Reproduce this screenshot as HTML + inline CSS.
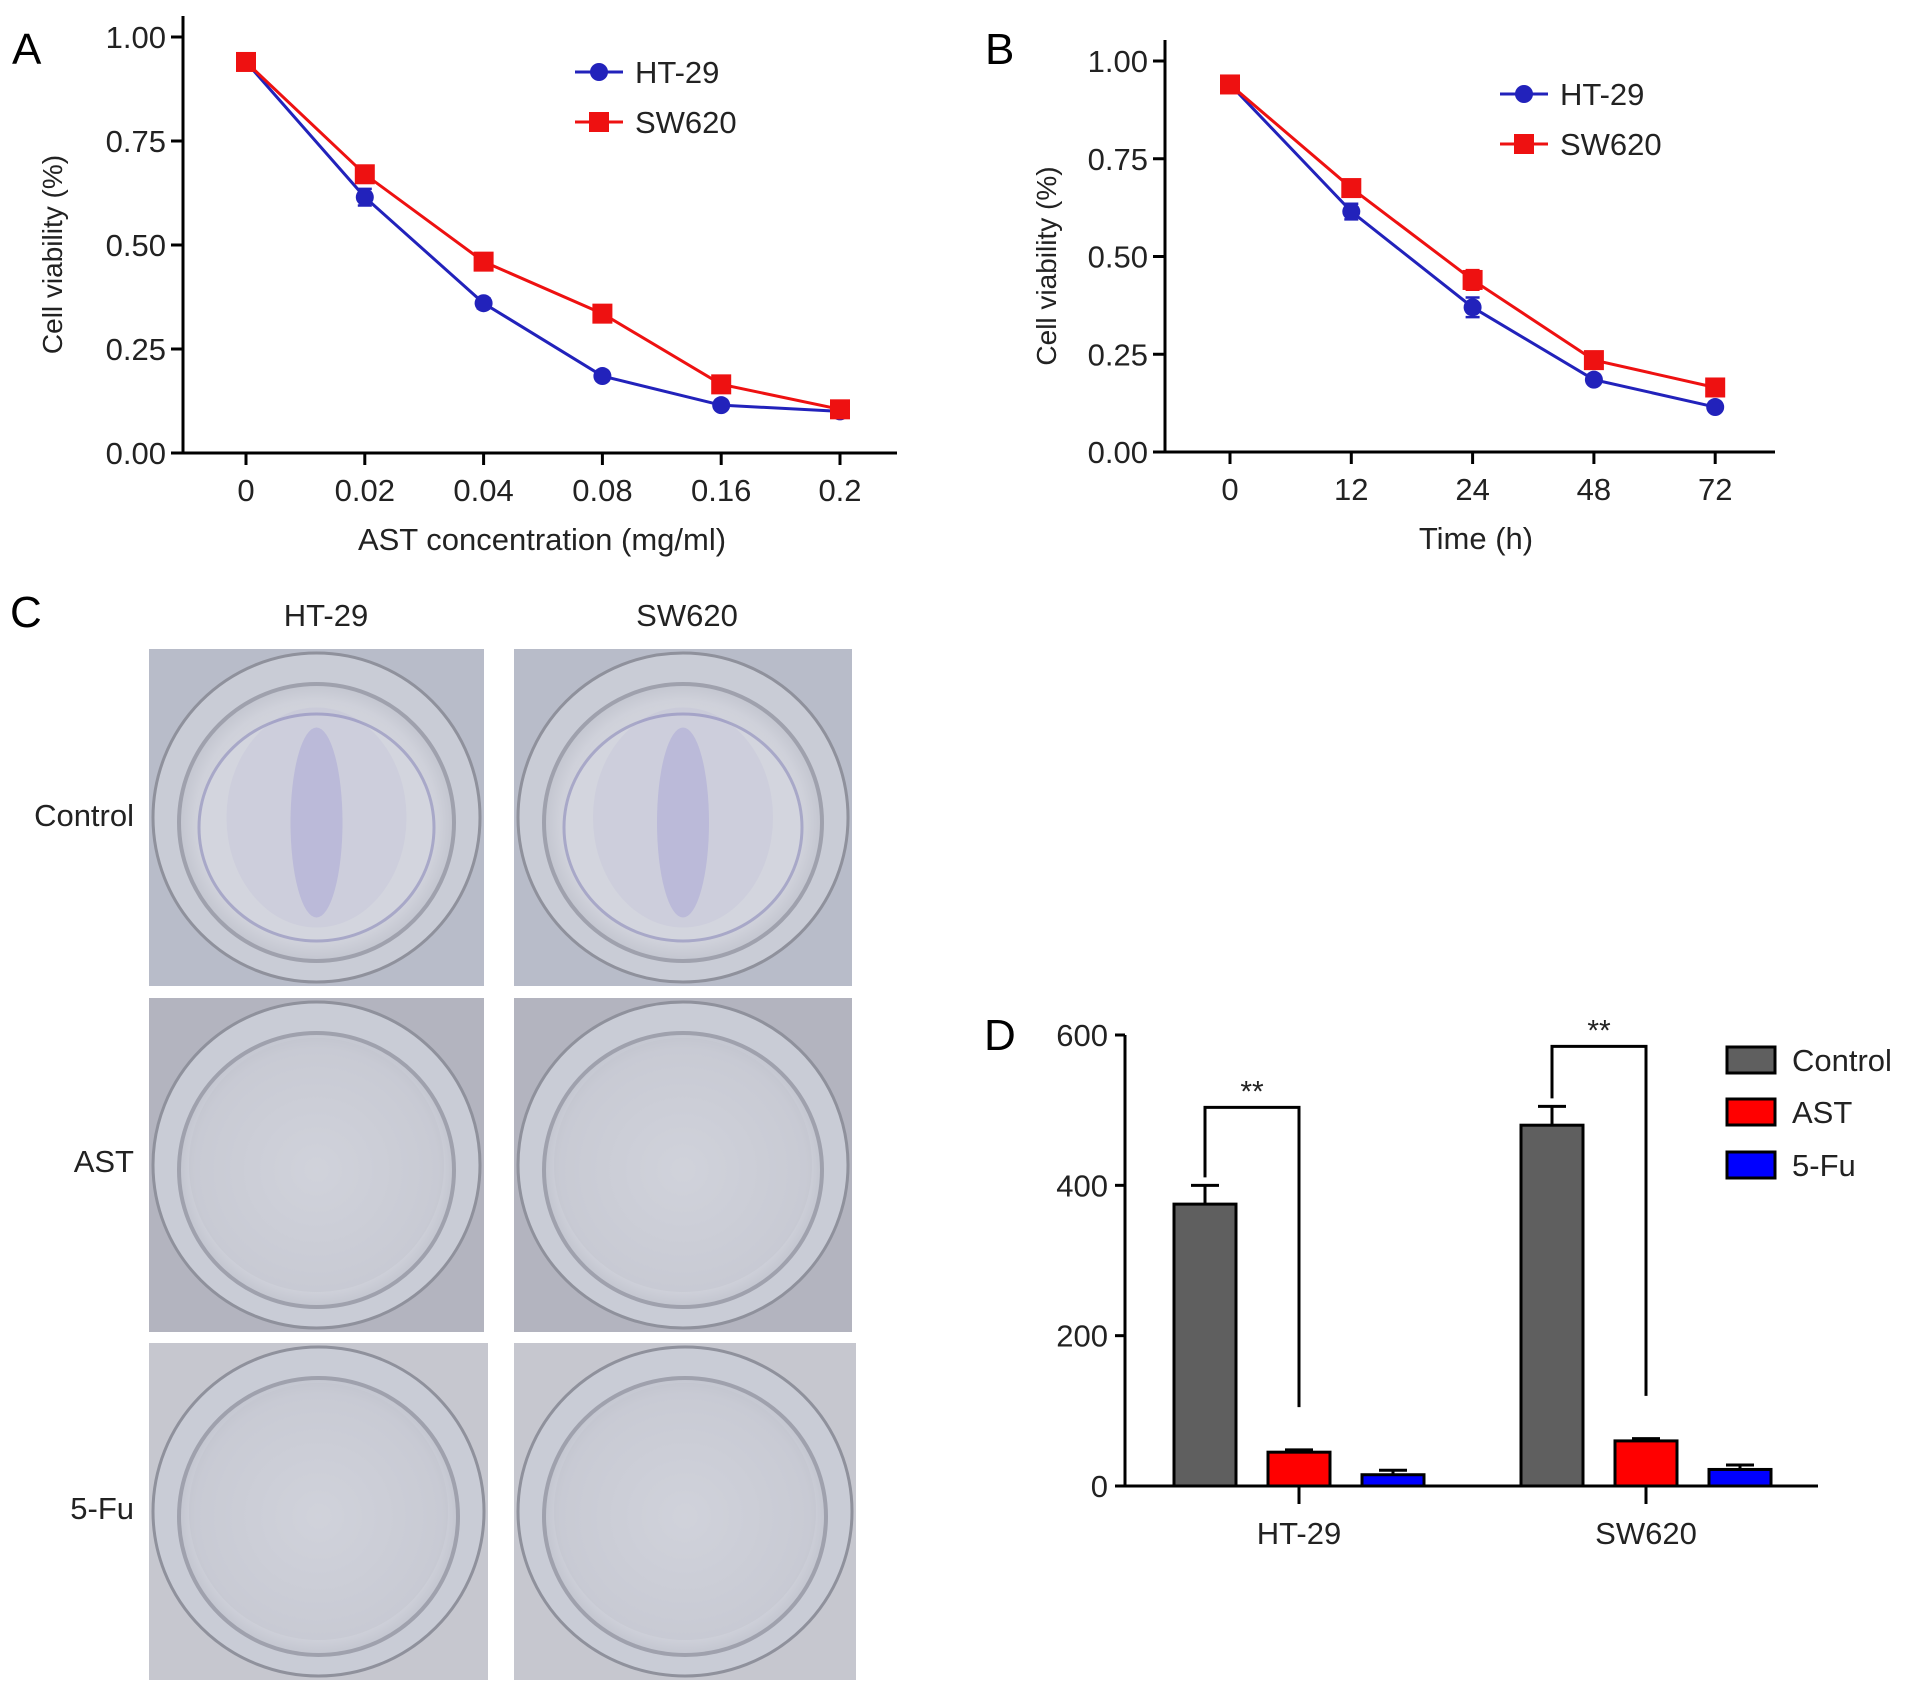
<!DOCTYPE html>
<html><head><meta charset="utf-8"><style>
html,body{margin:0;padding:0;background:#fff}
svg{display:block;font-family:"Liberation Sans",Arial,sans-serif}
</style></head><body>
<svg id="fig" width="1913" height="1696" viewBox="0 0 1913 1696" xmlns="http://www.w3.org/2000/svg">
<defs>
<radialGradient id="dishG" cx="50%" cy="50%" r="55%"><stop offset="0" stop-color="#dfe1e8"/><stop offset="0.8" stop-color="#cfd1da"/><stop offset="1" stop-color="#b9bcc7"/></radialGradient>
</defs>
<g id="panelA"></g>
<g id="panelB"></g>
<g id="panelC"></g>
<g id="panelD"></g>
</svg>
<script>
// Panel A data
const aCategories = ["0","0.02","0.04","0.08","0.16","0.2"];
const aHT29 = [0.94,0.615,0.36,0.185,0.115,0.10];
const aSW620 = [0.94,0.67,0.46,0.335,0.165,0.105];
const aHTerr = [0.01,0.02,0.012,0.01,0.01,0.008];
const aSWerr = [0.01,0.012,0.01,0.01,0.012,0.01];
// Panel B data
const bCategories = ["0","12","24","48","72"];
const bHT29 = [0.94,0.615,0.37,0.185,0.115];
const bSW620 = [0.94,0.675,0.44,0.235,0.165];
const bHTerr = [0.01,0.02,0.025,0.01,0.008];
const bSWerr = [0.01,0.012,0.025,0.01,0.01];
const yTicksAB = [0,0.25,0.5,0.75,1.0];
const yTickLabelsAB = ["0.00","0.25","0.50","0.75","1.00"];
// Panel D data
const dGroups = ["HT-29","SW620"];
const dSeries = ["Control","AST","5-Fu"];
const dControl = [375,480];
const dAST = [45,60];
const d5Fu = [15,22];
const dControlErr = [25,25];
const dASTErr = [3,3];
const d5FuErr = [6,6];
const dTicks = [0,200,400,600];

const NS="http://www.w3.org/2000/svg";
function mk(parent,tag,attrs,text){const e=document.createElementNS(NS,tag);for(const k in attrs)e.setAttribute(k,attrs[k]);if(text!==undefined)e.textContent=text;parent.appendChild(e);return e;}
const FS=31;

function linePanel(g,o){
  const {x0,x1,xFirst,xStep,yTop,y0,y1v,cats,s1,s2,e1,e2,letter,letterPos,title,titleX,ylabX,legX,legY}=o;
  const ys=v=>y0-(v/1.0)*(y0-y1v);
  const xs=i=>xFirst+i*xStep;
  let t=mk(g,'text',{x:letterPos[0],y:letterPos[1],'font-size':44,fill:'#000'},letter);
  
  
  let ax=mk(g,'path',{d:`M${x0} ${yTop}V${y0}H${x1}`,stroke:'#000','stroke-width':3,fill:'none'});
  
  
  yTicksAB.forEach((v,i)=>{
    mk(g,'line',{x1:x0-12,x2:x0,y1:ys(v),y2:ys(v),stroke:'#000','stroke-width':3});
    let l=mk(g,'text',{x:x0-17,y:ys(v)+11,'font-size':FS,'text-anchor':'end',fill:'#222'},yTickLabelsAB[i]);
    
    
  });
  cats.forEach((c,i)=>{
    mk(g,'line',{x1:xs(i),x2:xs(i),y1:y0,y2:y0+12,stroke:'#000','stroke-width':3});
    let l=mk(g,'text',{x:xs(i),y:y0+48,'font-size':FS,'text-anchor':'middle',fill:'#222'},c);
    
    
  });
  let xt=mk(g,'text',{x:titleX,y:y0+97,'font-size':FS,'text-anchor':'middle',fill:'#222'},title);
  
  
  const yc=(yTop+y0)/2+20;
  let yt=mk(g,'text',{x:ylabX,y:yc,'font-size':28,'text-anchor':'middle',fill:'#222',transform:`rotate(-90 ${ylabX} ${yc})`},'Cell viability (%)');
  
  
  [[s1,e1,'#2222bb','HT-29'],[s2,e2,'#ee1111','SW620']].forEach(([s,e,col,nm],k)=>{
    const sg=mk(g,'g',{});
    
    
    mk(sg,'polyline',{points:s.map((v,i)=>xs(i)+','+ys(v)).join(' '),fill:'none',stroke:col,'stroke-width':3});
    s.forEach((v,i)=>{
      mk(sg,'path',{d:`M${xs(i)-7} ${ys(v+e[i])}h14M${xs(i)} ${ys(v+e[i])}V${ys(v-e[i])}M${xs(i)-7} ${ys(v-e[i])}h14`,stroke:col,'stroke-width':2.5});
      let m;
      if(k===0) m=mk(sg,'circle',{cx:xs(i),cy:ys(v),r:9,fill:col});
      else m=mk(sg,'rect',{x:xs(i)-10,y:ys(v)-10,width:20,height:20,fill:col});
      
      
    });
    const ly=legY[k];
    const le=mk(g,'g',{});
    
    
    mk(le,'line',{x1:legX,x2:legX+48,y1:ly,y2:ly,stroke:col,'stroke-width':3});
    if(k===0) mk(le,'circle',{cx:legX+24,cy:ly,r:9,fill:col}); else mk(le,'rect',{x:legX+14,y:ly-10,width:20,height:20,fill:col});
    mk(le,'text',{x:legX+60,y:ly+11,'font-size':FS,fill:'#222'},nm);
  });
}
linePanel(document.getElementById('panelA'),{x0:183,x1:897,xFirst:246,xStep:118.8,yTop:16,y0:453,y1v:37,cats:aCategories,s1:aHT29,s2:aSW620,e1:aHTerr,e2:aSWerr,letter:'A',letterPos:[12,64],title:'AST concentration (mg/ml)',titleX:542,ylabX:62,legX:575,legY:[72,122]});
linePanel(document.getElementById('panelB'),{x0:1165,x1:1775,xFirst:1230,xStep:121.3,yTop:40,y0:452,y1v:61,cats:bCategories,s1:bHT29,s2:bSW620,e1:bHTerr,e2:bSWerr,letter:'B',letterPos:[985,64],title:'Time (h)',titleX:1476,ylabX:1056,legX:1500,legY:[94,144]});

// Panel C: photos
(function(){
  const g=document.getElementById('panelC');
  let t=mk(g,'text',{x:10,y:627,'font-size':44,fill:'#000'},'C');
  
  
  [['HT-29',326],['SW620',687]].forEach(([n,x])=>{let h=mk(g,'text',{x:x,y:626,'font-size':FS,'text-anchor':'middle',fill:'#222'},n);
    
    });
  [['Control',826],['AST',1172],['5-Fu',1519]].forEach(([n,y])=>{let h=mk(g,'text',{x:134,y:y,'font-size':FS,'text-anchor':'end',fill:'#222'},n);
    
    });
  const cols=[[149,484],[514,852]];
  const rows=[[649,986],[998,1332],[1343,1680]];
  rows.forEach((r,ri)=>cols.forEach((c,ci)=>{
    const w=c[1]-c[0]+(ri===2?4:0),h=r[1]-r[0];
    const pg=mk(g,'g',{});
    
    
    const bg=ri===0?'#b8bcc9':(ri===1?'#b3b4bf':'#c6c7cf');
    mk(pg,'rect',{x:c[0],y:r[0],width:w,height:h,fill:bg});
    const cx=c[0]+w/2,cy=r[0]+h/2;
    mk(pg,'ellipse',{cx:cx,cy:cy,rx:w/2-4,ry:h/2-4,fill:'#c9ccd6',stroke:'#8f919c','stroke-width':3});
    mk(pg,'ellipse',{cx:cx,cy:cy+5,rx:w/2-30,ry:h/2-30,fill:'url(#dishG)',stroke:'#9fa1ad','stroke-width':4});
    if(ri===0){
      mk(pg,'ellipse',{cx:cx,cy:cy+10,rx:w/2-50,ry:h/2-55,fill:'#d3d5de',stroke:'#a8a8c8','stroke-width':3});
      mk(pg,'ellipse',{cx:cx,cy:cy+5,rx:26,ry:95,fill:'#7a72d0',opacity:0.22});
      mk(pg,'ellipse',{cx:cx,cy:cy,rx:90,ry:110,fill:'#8a84c8',opacity:0.08});
    } else {
      mk(pg,'ellipse',{cx:cx,cy:cy,rx:w/2-40,ry:h/2-40,fill:'#c2c3cd',opacity:0.5});
    }
  }));
})();

// Panel D: bar chart
(function(){
  const g=document.getElementById('panelD');
  const x0=1125,x1=1818,y0=1486,yTop=1035;
  const ys=v=>y0-v/600*(y0-yTop);
  const groupCenter=[1299,1646];
  const step=94,bw=62;
  let t=mk(g,'text',{x:984,y:1050,'font-size':44,fill:'#000'},'D');
  
  
  dTicks.forEach(v=>{
    mk(g,'line',{x1:x0-10,x2:x0,y1:ys(v),y2:ys(v),stroke:'#000','stroke-width':3});
    let l=mk(g,'text',{x:x0-17,y:ys(v)+11,'font-size':FS,'text-anchor':'end',fill:'#222'},String(v));
    
    
  });
  let ax=mk(g,'path',{d:`M${x0} ${yTop}V${y0}H${x1}`,stroke:'#000','stroke-width':3,fill:'none'});
  
  
  const series=[[dControl,dControlErr,'#5f5f5f'],[dAST,dASTErr,'#ff0000'],[d5Fu,d5FuErr,'#0000ff']];
  dGroups.forEach((gn,gi)=>{
    const gc=groupCenter[gi];
    mk(g,'line',{x1:gc,x2:gc,y1:y0,y2:y0+18,stroke:'#000','stroke-width':3});
    let l=mk(g,'text',{x:gc,y:y0+58,'font-size':FS,'text-anchor':'middle',fill:'#222'},gn);
    
    
    series.forEach(([vals,errs,col],si)=>{
      const cx=gc+(si-1)*step;
      const top=ys(vals[gi]),et=ys(vals[gi]+errs[gi]);
      mk(g,'path',{d:`M${cx} ${top}V${et}M${cx-14} ${et}h28`,stroke:'#000','stroke-width':3});
      let b=mk(g,'rect',{x:cx-bw/2,y:top,width:bw,height:y0-top,fill:col,stroke:'#000','stroke-width':3});
      
      
    });
    const lx=gc-step,rx=gc;
    const topY=ys(dControl[gi]+dControlErr[gi])-(gi===0?78:60);
    const br=mk(g,'path',{d:`M${lx} ${ys(dControl[gi]+dControlErr[gi])-8}V${topY}H${rx}V${ys(dAST[gi])-45}`,stroke:'#000','stroke-width':3,fill:'none'});
    
    
    let s=mk(g,'text',{x:(lx+rx)/2,y:topY-6,'font-size':30,'text-anchor':'middle',fill:'#222'},'**');
    
    
  });
  const lcol=['#5f5f5f','#ff0000','#0000ff'];
  const ly=[1060,1112,1165];
  dSeries.forEach((n,i)=>{
    const le=mk(g,'g',{});
    
    
    mk(le,'rect',{x:1727,y:ly[i]-13,width:48,height:26,fill:lcol[i],stroke:'#000','stroke-width':3});
    mk(le,'text',{x:1792,y:ly[i]+11,'font-size':FS,fill:'#222'},n);
  });
})();
</script>
</body></html>
